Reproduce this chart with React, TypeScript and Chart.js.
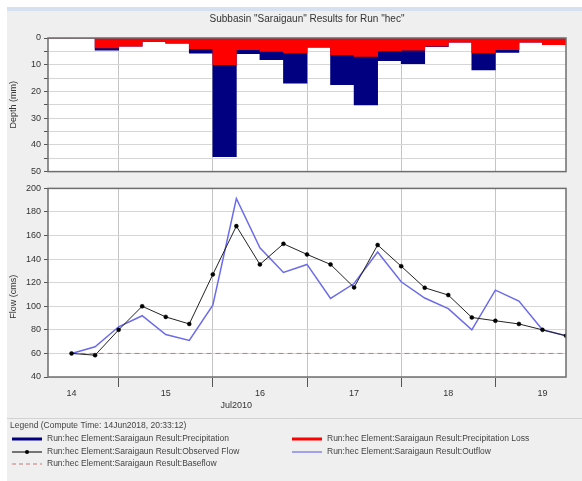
import React, { useEffect, useRef } from 'react';
import { Chart, registerables } from 'chart.js';

Chart.register(...registerables);

const FONT = '"Liberation Sans", Arial, sans-serif';

const chartTitle = 'Subbasin "Saraigaun" Results for Run "hec"';
const depthAxisTitle = 'Depth (mm)';
const flowAxisTitle = 'Flow (cms)';
const monthLabel = 'Jul2010';
const legendHeader = 'Legend (Compute Time: 14Jun2018, 20:33:12)';

// hours after 14Jul2010 00:00, middle of each 6-hour precipitation interval
const intervalHours = [9, 15, 21, 27, 33, 39, 45, 51, 57, 63, 69, 75, 81, 87, 93, 99, 105, 111, 117, 123, 129, 135];
const precipitation = [0, 0, 4.6, 3.1, 1.3, 1.9, 5.7, 44.4, 5.9, 8.1, 16.9, 3.4, 17.5, 25.0, 8.5, 9.6, 3.2, 1.6, 11.9, 5.4, 1.6, 2.5];
const precipitationLoss = [0, 0, 3.7, 3.1, 1.3, 1.9, 4.1, 10.0, 4.4, 5.0, 5.6, 3.4, 6.3, 6.9, 4.8, 4.6, 3.1, 1.6, 5.6, 4.4, 1.6, 2.5];

// hours after 14Jul2010 00:00 for flow values
const flowHours = [12, 18, 24, 30, 36, 42, 48, 54, 60, 66, 72, 78, 84, 90, 96, 102, 108, 114, 120, 126, 132, 138];
const observedFlow = [60, 58.5, 80, 100, 91, 85, 127, 168, 135.5, 153, 144, 135.5, 116, 152, 134, 115.7, 109.5, 90.5, 87.7, 85, 80, 75];
const outflow = [60, 65.7, 82.6, 92, 76, 71, 101, 191.4, 149.6, 128.7, 135.5, 106.6, 119.3, 146, 120.8, 107, 98, 80, 113.7, 104.4, 80, 75];
const baseflow = [60, 60, 60, 60, 60, 60, 60, 60, 60, 60, 60, 60, 60, 60, 60, 60, 60, 60, 60, 60, 60, 60];

const timeTicks = [12, 24, 36, 48, 60, 72, 84, 96, 108, 120, 132];
const dayTickLabels = ['14', '', '15', '', '16', '', '17', '', '18', '', '19'];
const timeMin = 6;
const timeMax = 138;
const monthLabelHour = 54;

const legendLabels = [
  'Run:hec Element:Saraigaun Result:Precipitation',
  'Run:hec Element:Saraigaun Result:Precipitation Loss',
  'Run:hec Element:Saraigaun Result:Observed Flow',
  'Run:hec Element:Saraigaun Result:Outflow',
  'Run:hec Element:Saraigaun Result:Baseflow',
];

const COLORS = {
  precip: '#000080',
  loss: '#ff0000',
  observed: '#222222',
  outflow: '#6b6bec',
  baseflow: '#c87878',
  grid: '#d6d6d6',
  vgrid: '#c4c4c4',
  frame: '#6e6e6e',
  text: '#333333',
};

const isMidnight = (ctx: any) => ctx.tick && ctx.tick.value % 24 === 0;

const plotBackground = {
  id: 'plotBackground',
  beforeDraw(chart: any) {
    const { ctx, chartArea: a } = chart;
    ctx.save();
    ctx.fillStyle = '#ffffff';
    ctx.fillRect(a.left, a.top, a.right - a.left, a.bottom - a.top);
    ctx.restore();
  },
  afterDraw(chart: any) {
    const { ctx, chartArea: a } = chart;
    ctx.save();
    ctx.strokeStyle = COLORS.frame;
    ctx.lineWidth = 1.5;
    ctx.strokeRect(a.left, a.top, a.right - a.left, a.bottom - a.top);
    ctx.restore();
  },
};

function drawVerticalText(ctx: CanvasRenderingContext2D, text: string, x: number, y: number) {
  ctx.save();
  ctx.translate(x, y);
  ctx.rotate(-Math.PI / 2);
  ctx.textAlign = 'center';
  ctx.textBaseline = 'middle';
  ctx.fillText(text, 0, 0);
  ctx.restore();
}

const topDecor = {
  id: 'topDecor',
  afterDraw(chart: any) {
    const { ctx, chartArea: a } = chart;
    ctx.save();
    ctx.fillStyle = COLORS.text;
    ctx.font = `10px ${FONT}`;
    ctx.textAlign = 'center';
    ctx.textBaseline = 'middle';
    ctx.fillText(chartTitle, (a.left + a.right) / 2, 19);
    ctx.font = `9px ${FONT}`;
    drawVerticalText(ctx, depthAxisTitle, 14, (a.top + a.bottom) / 2);
    ctx.restore();
  },
};

const bottomDecor = {
  id: 'bottomDecor',
  afterDraw(chart: any) {
    const { ctx, chartArea: a } = chart;
    const xs = chart.scales.x;
    ctx.save();
    ctx.fillStyle = COLORS.text;
    ctx.font = `9px ${FONT}`;
    drawVerticalText(ctx, flowAxisTitle, 14, (a.top + a.bottom) / 2 + 14);
    ctx.textAlign = 'center';
    ctx.textBaseline = 'middle';
    ctx.fillText(monthLabel, xs.getPixelForValue(monthLabelHour), 226);

    // separator
    ctx.strokeStyle = '#d2d2d2';
    ctx.lineWidth = 1;
    ctx.beginPath();
    ctx.moveTo(7, 238.5);
    ctx.lineTo(582, 238.5);
    ctx.stroke();

    ctx.font = `8.5px ${FONT}`;
    ctx.fillStyle = '#444444';
    ctx.textAlign = 'left';
    ctx.fillText(legendHeader, 10, 246);

    const items = [
      { label: legendLabels[0], color: COLORS.precip, kind: 'thick', col: 0, row: 0 },
      { label: legendLabels[1], color: COLORS.loss, kind: 'thick', col: 1, row: 0 },
      { label: legendLabels[2], color: COLORS.observed, kind: 'marker', col: 0, row: 1 },
      { label: legendLabels[3], color: COLORS.outflow, kind: 'line', col: 1, row: 1 },
      { label: legendLabels[4], color: COLORS.baseflow, kind: 'dash', col: 0, row: 2 },
    ];
    const rowY = [259, 272, 284];
    const colX = [12, 292];
    items.forEach((it) => {
      const x0 = colX[it.col];
      const y = rowY[it.row];
      ctx.save();
      ctx.strokeStyle = it.color;
      ctx.lineWidth = it.kind === 'thick' ? 3 : 1.2;
      if (it.kind === 'dash') ctx.setLineDash([4, 3]);
      ctx.beginPath();
      ctx.moveTo(x0, y);
      ctx.lineTo(x0 + 30, y);
      ctx.stroke();
      if (it.kind === 'marker') {
        ctx.fillStyle = '#000';
        ctx.beginPath();
        ctx.arc(x0 + 15, y, 2, 0, Math.PI * 2);
        ctx.fill();
      }
      ctx.restore();
      ctx.fillStyle = '#444444';
      ctx.fillText(it.label, x0 + 35, y);
    });
    ctx.restore();
  },
};

const xTicksBuilder = (scale: any) => {
  scale.ticks = timeTicks.map((v) => ({ value: v }));
};

export default function App() {
  const topRef = useRef<HTMLCanvasElement>(null);
  const bottomRef = useRef<HTMLCanvasElement>(null);

  useEffect(() => {
    Chart.defaults.font.family = FONT;
    const top = new Chart(topRef.current as HTMLCanvasElement, {
      type: 'bar',
      data: {
        datasets: [
          {
            label: legendLabels[1],
            data: intervalHours.map((x, i) => ({ x, y: precipitationLoss[i] })),
            backgroundColor: COLORS.loss,
            borderWidth: 0,
            grouped: false,
            barPercentage: 1,
            categoryPercentage: 1,
            order: 0,
          } as any,
          {
            label: legendLabels[0],
            data: intervalHours.map((x, i) => ({ x, y: precipitation[i] })),
            backgroundColor: COLORS.precip,
            borderWidth: 0,
            grouped: false,
            barPercentage: 1,
            categoryPercentage: 1,
            order: 1,
          } as any,
        ],
      },
      options: {
        animation: false,
        responsive: false,
        maintainAspectRatio: false,
        layout: { padding: { top: 38, bottom: 8, left: 0, right: 16 } },
        plugins: { legend: { display: false }, tooltip: { enabled: false }, title: { display: false } },
        scales: {
          x: {
            type: 'linear',
            min: timeMin,
            max: timeMax,
            offset: false,
            afterBuildTicks: xTicksBuilder,
            afterFit: (s: any) => {
              s.height = 0;
            },
            ticks: { display: false, autoSkip: false },
            grid: {
              offset: false,
              drawTicks: false,
              color: (ctx: any) => (isMidnight(ctx) ? COLORS.vgrid : 'rgba(0,0,0,0)'),
            },
            border: { display: false },
          },
          y: {
            min: 0,
            max: 50,
            reverse: true,
            afterFit: (s: any) => {
              s.width = 48;
            },
            ticks: {
              stepSize: 5,
              autoSkip: false,
              padding: 3,
              color: COLORS.text,
              font: { size: 9 },
              callback: (v: any) => (Number(v) % 10 === 0 ? String(v) : ''),
            },
            grid: { color: COLORS.grid, tickLength: 4, tickColor: '#555555' },
            border: { display: false },
          },
        },
      } as any,
      plugins: [plotBackground, topDecor],
    });

    const bottom = new Chart(bottomRef.current as HTMLCanvasElement, {
      type: 'line',
      data: {
        datasets: [
          {
            label: legendLabels[2],
            data: flowHours.map((x, i) => ({ x, y: observedFlow[i] })),
            borderColor: COLORS.observed,
            borderWidth: 1,
            pointRadius: 2,
            pointBackgroundColor: '#000',
            pointBorderColor: '#000',
            pointBorderWidth: 0.5,
            tension: 0,
            order: 0,
          },
          {
            label: legendLabels[3],
            data: flowHours.map((x, i) => ({ x, y: outflow[i] })),
            borderColor: COLORS.outflow,
            borderWidth: 1.5,
            pointRadius: 0,
            tension: 0,
            order: 1,
          },
          {
            label: legendLabels[4],
            data: flowHours.map((x, i) => ({ x, y: baseflow[i] })),
            borderColor: COLORS.baseflow,
            borderWidth: 1,
            borderDash: [5, 4],
            pointRadius: 0,
            tension: 0,
            order: 2,
          },
        ],
      },
      options: {
        animation: false,
        responsive: false,
        maintainAspectRatio: false,
        layout: { padding: { top: 8, bottom: 74, left: 0, right: 16 } },
        plugins: { legend: { display: false }, tooltip: { enabled: false }, title: { display: false } },
        scales: {
          x: {
            type: 'linear',
            min: timeMin,
            max: timeMax,
            afterBuildTicks: xTicksBuilder,
            afterFit: (s: any) => {
              s.height = 30;
            },
            ticks: {
              autoSkip: false,
              maxRotation: 0,
              padding: 1,
              color: COLORS.text,
              font: { size: 9 },
              callback: (_v: any, i: number) => dayTickLabels[i],
            },
            grid: {
              tickLength: 10,
              color: (ctx: any) => (isMidnight(ctx) ? COLORS.vgrid : 'rgba(0,0,0,0)'),
              tickColor: (ctx: any) => (isMidnight(ctx) ? '#555555' : 'rgba(0,0,0,0)'),
            },
            border: { display: false },
          },
          y: {
            min: 40,
            max: 200,
            afterFit: (s: any) => {
              s.width = 48;
            },
            ticks: { stepSize: 20, padding: 3, color: COLORS.text, font: { size: 9 } },
            grid: { color: COLORS.grid, tickLength: 4, tickColor: '#555555' },
            border: { display: false },
          },
        },
      } as any,
      plugins: [plotBackground, bottomDecor],
    });

    return () => {
      top.destroy();
      bottom.destroy();
    };
  }, []);

  return (
    <div style={{ position: 'absolute', left: 0, top: 0, width: 582, height: 481, background: '#ffffff', overflow: 'hidden' }}>
      <div style={{ position: 'absolute', left: 7, top: 7, right: 0, bottom: 0, background: '#efefef' }} />
      <div style={{ position: 'absolute', left: 7, top: 7, right: 0, height: 4, background: '#d5e1ef' }} />
      <canvas ref={topRef} width={582} height={180} style={{ position: 'absolute', left: 0, top: 0, width: 582, height: 180 }} />
      <canvas ref={bottomRef} width={582} height={301} style={{ position: 'absolute', left: 0, top: 180, width: 582, height: 301 }} />
    </div>
  );
}
